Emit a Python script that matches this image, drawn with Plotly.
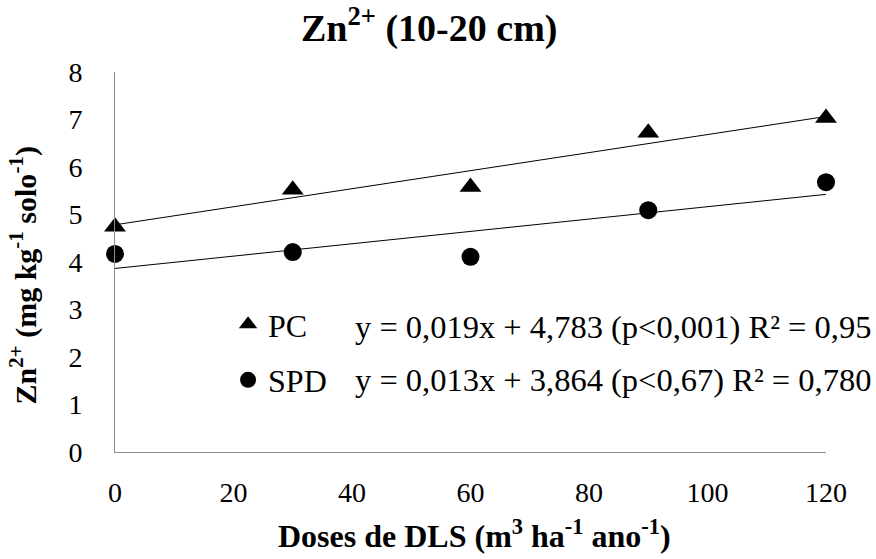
import plotly.graph_objects as go

doses = [0, 30, 60, 90, 120]
pc_values = [4.74, 5.52, 5.58, 6.72, 7.03]
spd_values = [4.17, 4.21, 4.11, 5.09, 5.68]

pc_coef = [4.783, 0.019]   # intercept, slope
spd_coef = [3.864, 0.013]

pc_eq = "y = 0,019x + 4,783 (p&lt;0,001) R² = 0,95"
spd_eq = "y = 0,013x + 3,864 (p&lt;0,67) R² = 0,780"

x_ticks = [0, 20, 40, 60, 80, 100, 120]
y_ticks = [0, 1, 2, 3, 4, 5, 6, 7, 8]

FONT = "Liberation Serif"

trend_x = [doses[0], doses[-1]]
pc_trend = [pc_coef[0] + pc_coef[1] * v for v in trend_x]
spd_trend = [spd_coef[0] + spd_coef[1] * v for v in trend_x]

fig = go.Figure()
fig.add_trace(go.Scatter(x=trend_x, y=pc_trend, mode="lines",
                         line=dict(color="black", width=1), showlegend=False,
                         hoverinfo="skip"))
fig.add_trace(go.Scatter(x=trend_x, y=spd_trend, mode="lines",
                         line=dict(color="black", width=1), showlegend=False,
                         hoverinfo="skip"))
fig.add_trace(go.Scatter(x=doses, y=pc_values, mode="markers", name="PC",
                         legendgroup="a",
                         marker=dict(symbol="triangle-up", size=19, color="black"),
                         cliponaxis=False))
fig.add_trace(go.Scatter(x=doses, y=spd_values, mode="markers", name="SPD",
                         legendgroup="b",
                         marker=dict(symbol="circle", size=18, color="black"),
                         cliponaxis=False))

fig.update_layout(
    template="none",
    width=876, height=559,
    margin=dict(l=115, r=50, t=72, b=107, autoexpand=False),
    paper_bgcolor="white", plot_bgcolor="white",
    font=dict(family=FONT, size=28, color="black"),
    title=dict(text="<b>Zn<sup>2+</sup> (10-20 cm)</b>", x=0.49, xanchor="center",
               y=0.95, yanchor="middle", font=dict(size=38, family=FONT)),
    showlegend=True,
    legend=dict(x=0.159, y=0.408, xanchor="left", yanchor="top",
                bgcolor="rgba(0,0,0,0)", borderwidth=0, tracegroupgap=11,
                font=dict(size=32, family=FONT), itemsizing="trace"),
    xaxis=dict(range=[0, 120], tickvals=x_ticks, showgrid=False, zeroline=False,
               showline=True, linecolor="#8c8c8c", linewidth=1, automargin=False,
               ticks="outside", ticklen=15, tickcolor="rgba(0,0,0,0)",
               tickfont=dict(size=28, family=FONT)),
    yaxis=dict(range=[0, 8], tickvals=y_ticks, showgrid=False, zeroline=False,
               showline=True, linecolor="#8c8c8c", linewidth=1, automargin=False,
               ticks="outside", ticklen=26, tickcolor="rgba(0,0,0,0)",
               tickfont=dict(size=28, family=FONT)),
)

fig.add_annotation(text=pc_eq, xref="paper", yref="paper", x=0.3345, y=0.329,
                   xanchor="left", yanchor="middle", showarrow=False,
                   font=dict(size=32.5, family=FONT))
fig.add_annotation(text=spd_eq, xref="paper", yref="paper", x=0.3345, y=0.189,
                   xanchor="left", yanchor="middle", showarrow=False,
                   font=dict(size=32.5, family=FONT))
fig.add_annotation(text="<b>Zn<sup>2+</sup> (mg kg<sup>-1</sup> solo<sup>-1</sup>)</b>",
                   xref="paper", yref="paper", x=-0.128, y=0.4645,
                   xanchor="center", yanchor="middle", textangle=-90,
                   showarrow=False, font=dict(size=30, family=FONT))
fig.add_annotation(text="<b>Doses de DLS (m<sup>3</sup> ha<sup>-1</sup> ano<sup>-1</sup>)</b>",
                   xref="paper", yref="paper", x=0.505, y=-0.216,
                   xanchor="center", yanchor="middle",
                   showarrow=False, font=dict(size=32, family=FONT))

fig.write_html("out.html", config={"displayModeBar": False},
               post_script="document.body.style.margin='0';document.body.style.overflow='hidden';")
